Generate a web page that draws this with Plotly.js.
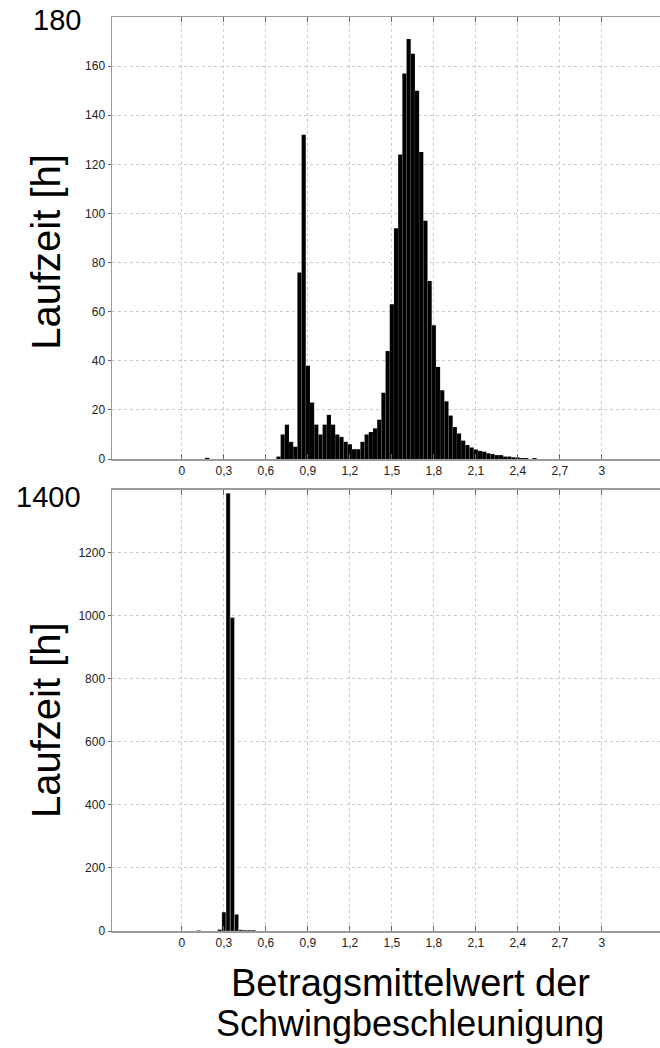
<!DOCTYPE html>
<html>
<head>
<meta charset="utf-8">
<script src="https://cdn.plot.ly/plotly-3.0.1.min.js"></script>
<style>html,body{margin:0;padding:0;background:#fff;}#chart{width:660px;height:1048px;}</style>
</head>
<body>
<div id="chart"></div>
<script>
// Bin centres (Betragsmittelwert) and run time (h) per bin — upper histogram
var topBins = [0.18, 0.69, 0.72, 0.75, 0.78, 0.81, 0.84, 0.87, 0.90, 0.93, 0.96, 0.99,
  1.02, 1.05, 1.08, 1.11, 1.14, 1.17, 1.20, 1.23, 1.26, 1.29, 1.32, 1.35, 1.38, 1.41,
  1.44, 1.47, 1.50, 1.53, 1.56, 1.59, 1.62, 1.65, 1.68, 1.71, 1.74, 1.77, 1.80, 1.83,
  1.86, 1.89, 1.92, 1.95, 1.98, 2.01, 2.04, 2.07, 2.10, 2.13, 2.16, 2.19, 2.22, 2.25,
  2.28, 2.31, 2.34, 2.37, 2.40, 2.43, 2.46, 2.52];
var topHours = [0.5, 1, 10, 14, 7, 5, 76, 132, 38, 23, 14, 10,
  14, 18, 14, 10, 9, 7, 6, 4, 4, 7, 10, 11, 12.5, 16,
  27, 44, 63, 94, 124, 157, 171, 165, 150, 125, 97, 72.5, 54.5, 37.5,
  28, 23.5, 17.7, 13, 10.4, 7.5, 5.7, 4.7, 3.9, 3.3, 3, 2.3, 2, 1.6,
  1.6, 1, 1, 0.7, 0.6, 0.4, 0.4, 0.4];

// Lower histogram
var botBins = [0.12, 0.27, 0.30, 0.33, 0.36, 0.39, 0.42, 0.45, 0.48, 0.51];
var botHours = [2, 5, 60, 1390, 995, 53, 4, 3, 3, 3];

// Tick values / labels
var xTickVals = [0, 0.3, 0.6, 0.9, 1.2, 1.5, 1.8, 2.1, 2.4, 2.7, 3];
var xTickText = ['0', '0,3', '0,6', '0,9', '1,2', '1,5', '1,8', '2,1', '2,4', '2,7', '3'];
var topYTicks = [0, 20, 40, 60, 80, 100, 120, 140, 160];
var botYTicks = [0, 200, 400, 600, 800, 1000, 1200];
var topYMaxLabel = '180';
var botYMaxLabel = '1400';
var yTitle = 'Laufzeit [h]';
var xTitleLines = ['Betragsmittelwert der', 'Schwingbeschleunigung'];

var FONT = 'Liberation Sans, Arial, sans-serif';
var gridCol = '#cccccc';
var lineCol = '#9a9a9a';

function xAxis(anchor) {
  return {
    anchor: anchor, range: [-0.5, 3.4164], tickvals: xTickVals, ticktext: xTickText,
    showgrid: true, gridcolor: gridCol, griddash: 'dot', gridwidth: 1,
    zeroline: false, showline: true, linecolor: lineCol, linewidth: 1.5, mirror: 'ticks',
    ticks: 'inside', ticklen: 5, tickcolor: '#666', tickwidth: 1,
    tickfont: {family: FONT, size: 12, color: '#222'}
  };
}
function yAxis(anchor, dom, rng, tv) {
  return {
    anchor: anchor, domain: dom, range: rng, tickvals: tv,
    showgrid: true, gridcolor: gridCol, griddash: 'dot', gridwidth: 1,
    zeroline: false, showline: true, linecolor: lineCol, linewidth: 1.5,
    ticks: 'outside', ticklen: 3, tickcolor: '#666',
    tickfont: {family: FONT, size: 12, color: '#222'}
  };
}

var traces = [
  {type: 'bar', x: topBins, y: topHours, width: 0.03, xaxis: 'x', yaxis: 'y',
   marker: {color: '#000', line: {color: 'rgba(255,255,255,0.2)', width: 0.3}}, hoverinfo: 'x+y'},
  {type: 'bar', x: botBins, y: botHours, width: 0.03, xaxis: 'x2', yaxis: 'y2',
   marker: {color: '#000', line: {color: 'rgba(255,255,255,0.6)', width: 0.5}}, hoverinfo: 'x+y'}
];

var layout = {
  width: 660, height: 1048,
  margin: {l: 112, r: 0, t: 17, b: 117},
  paper_bgcolor: '#fff', plot_bgcolor: '#fff',
  showlegend: false, bargap: 0,
  xaxis: xAxis('y'),
  yaxis: yAxis('x', [0.5164, 1], [0, 180], topYTicks),
  xaxis2: xAxis('y2'),
  yaxis2: yAxis('x2', [0, 0.4825], [0, 1400], botYTicks),
  annotations: [
    {text: topYMaxLabel, xref: 'paper', yref: 'paper', x: -0.1009, y: 0.9964,
     xanchor: 'center', yanchor: 'middle', showarrow: false, font: {family: FONT, size: 29, color: '#000'}},
    {text: botYMaxLabel, xref: 'paper', yref: 'paper', x: -0.115, y: 0.4748,
     xanchor: 'center', yanchor: 'middle', showarrow: false, font: {family: FONT, size: 29, color: '#000'}},
    {text: yTitle, xref: 'paper', yref: 'paper', x: -0.1204, y: 0.7432, textangle: -90,
     xanchor: 'center', yanchor: 'middle', showarrow: false, font: {family: FONT, size: 40, color: '#000'}},
    {text: yTitle, xref: 'paper', yref: 'paper', x: -0.1204, y: 0.2308, textangle: -90,
     xanchor: 'center', yanchor: 'middle', showarrow: false, font: {family: FONT, size: 40, color: '#000'}},
    {text: xTitleLines[0], xref: 'paper', yref: 'paper', x: 0.5438, y: -0.0569,
     xanchor: 'center', yanchor: 'middle', showarrow: false, font: {family: FONT, size: 38, color: '#000'}},
    {text: xTitleLines[1], xref: 'paper', yref: 'paper', x: 0.5438, y: -0.1007,
     xanchor: 'center', yanchor: 'middle', showarrow: false, font: {family: FONT, size: 36, color: '#000'}}
  ]
};

Plotly.newPlot('chart', traces, layout, {displayModeBar: false, staticPlot: true});
</script>
</body>
</html>
